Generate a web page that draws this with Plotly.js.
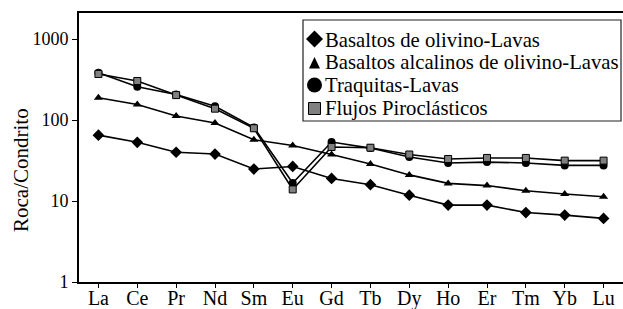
<!DOCTYPE html>
<html>
<head>
<meta charset="utf-8">
<script src="https://cdn.plot.ly/plotly-3.0.1.min.js"></script>
<style>html,body{margin:0;padding:0;background:#fff;}#chart{width:623px;height:309px;}</style>
</head>
<body>
<div id="chart"></div>
<script>
var elements = ["La","Ce","Pr","Nd","Sm","Eu","Gd","Tb","Dy","Ho","Er","Tm","Yb","Lu"];
var seriesNames = ["Basaltos de olivino-Lavas","Basaltos alcalinos de olivino-Lavas","Traquitas-Lavas","Flujos Piroclásticos"];
var basaltosOlivino = [65, 53, 40, 38, 24.8, 26.7, 19, 15.9, 11.8, 8.9, 8.9, 7.2, 6.7, 6.1];
var basaltosAlcalinos = [188, 155, 112, 92, 57, 48.5, 37.5, 28.6, 21, 16.5, 15.5, 13.4, 12.2, 11.3];
var traquitas = [384, 258, 207, 148, 81, 16.7, 53.5, 45, 35, 29.5, 30.2, 29.5, 27.5, 27.5];
var flujos = [370, 303, 203, 138, 79, 13.9, 46.5, 45.5, 37.5, 33, 34, 34, 31.5, 31.5];
var yTickVals = [1, 10, 100, 1000];
var yTickText = ["1", "10", "100", "1000"];
var yTitle = "Roca/Condrito";

var valuesList = [basaltosOlivino, basaltosAlcalinos, traquitas, flujos];
var symbols = ["diamond","triangle-up","circle","square"];
var sizes = [9, 8, 8, 7];
var fills = ["#000000","#000000","#000000","#808080"];

var serif = "Liberation Serif";
var W = 623, H = 309, ML = 79, MR = 0, MT = 13, MB = 27;
function px2x(p) { return (p - ML) / (W - ML - MR); }
function px2y(p) { return (H - MB - p) / (H - MT - MB); }
function pt(xp, yp) { return px2x(xp) + "," + px2y(yp); }

var traces = [];
for (var i = 0; i < 4; i++) {
  traces.push({
    x: elements, y: valuesList[i], type: "scatter", mode: "lines+markers",
    name: seriesNames[i], showlegend: false,
    line: {color: "#000000", width: 1.6},
    marker: {symbol: symbols[i], size: sizes[i], color: fills[i], line: {color: "#000000", width: i === 3 ? 1 : 0}}
  });
}

var rowY = [38.5, 61.5, 84, 107];
var symX = 314.5;
var annotations = [];
for (var k = 0; k < 4; k++) {
  annotations.push({
    xref: "paper", yref: "paper", x: px2x(323), y: px2y(rowY[k] + 1),
    xanchor: "left", yanchor: "middle", showarrow: false,
    text: seriesNames[k], font: {family: serif, size: 20.7, color: "#000000"}
  });
}
annotations.push({
  xref: "paper", yref: "paper", x: px2x(21), y: px2y(170),
  xanchor: "center", yanchor: "middle", showarrow: false, textangle: -90,
  text: yTitle, font: {family: serif, size: 21, color: "#000000"}
});

// legend box and legend symbols (pixel geometry converted to paper units)
var shapes = [{
  type: "rect", xref: "paper", yref: "paper", layer: "above",
  x0: px2x(303), x1: px2x(621), y0: px2y(121), y1: px2y(20),
  line: {color: "#222222", width: 1.2}, fillcolor: "rgba(255,255,255,0)"
}];
var r0 = rowY[0] + 0.5;
shapes.push({type: "path", xref: "paper", yref: "paper", layer: "above",
  path: "M" + pt(symX, r0 - 8.5) + " L" + pt(symX + 8.5, r0) + " L" + pt(symX, r0 + 8.5) + " L" + pt(symX - 8.5, r0) + " Z",
  fillcolor: "#000000", line: {width: 0}});
var r1 = rowY[1] + 1.5;
shapes.push({type: "path", xref: "paper", yref: "paper", layer: "above",
  path: "M" + pt(symX, r1 - 6) + " L" + pt(symX + 5.5, r1 + 5.5) + " L" + pt(symX - 5.5, r1 + 5.5) + " Z",
  fillcolor: "#000000", line: {width: 0}});
var r2 = rowY[2] + 1;
shapes.push({type: "circle", xref: "paper", yref: "paper", layer: "above",
  x0: px2x(symX - 7.5), x1: px2x(symX + 7.5), y0: px2y(r2 + 7.5), y1: px2y(r2 - 7.5),
  fillcolor: "#000000", line: {width: 0}});
var r3 = rowY[3] + 1.5;
shapes.push({type: "rect", xref: "paper", yref: "paper", layer: "above",
  x0: px2x(symX - 6), x1: px2x(symX + 6), y0: px2y(r3 + 6), y1: px2y(r3 - 6),
  fillcolor: "#808080", line: {color: "#000000", width: 1}});

var layout = {
  width: W, height: H,
  margin: {l: ML, r: MR, t: MT, b: MB},
  paper_bgcolor: "#ffffff", plot_bgcolor: "#ffffff",
  font: {family: serif, color: "#000000"},
  showlegend: false,
  shapes: shapes,
  annotations: annotations,
  xaxis: {
    type: "category", categoryorder: "array", categoryarray: elements,
    range: [-0.5, 13.5],
    showgrid: false, zeroline: false,
    showline: true, linecolor: "#000000", linewidth: 2, mirror: true,
    ticks: "outside", ticklen: 4, tickwidth: 1, tickcolor: "#000000",
    ticklabelstandoff: -7,
    tickfont: {family: serif, size: 20, color: "#000000"}
  },
  yaxis: {
    type: "log", range: [0, 3.321],
    tickvals: yTickVals, ticktext: yTickText,
    showgrid: false, zeroline: false,
    showline: true, linecolor: "#000000", linewidth: 2, mirror: false,
    ticks: "outside", ticklen: 5, tickwidth: 1, tickcolor: "#000000",
    tickfont: {family: serif, size: 18, color: "#000000"}
  }
};

Plotly.newPlot("chart", traces, layout, {displayModeBar: false, staticPlot: true});
</script>
</body>
</html>
